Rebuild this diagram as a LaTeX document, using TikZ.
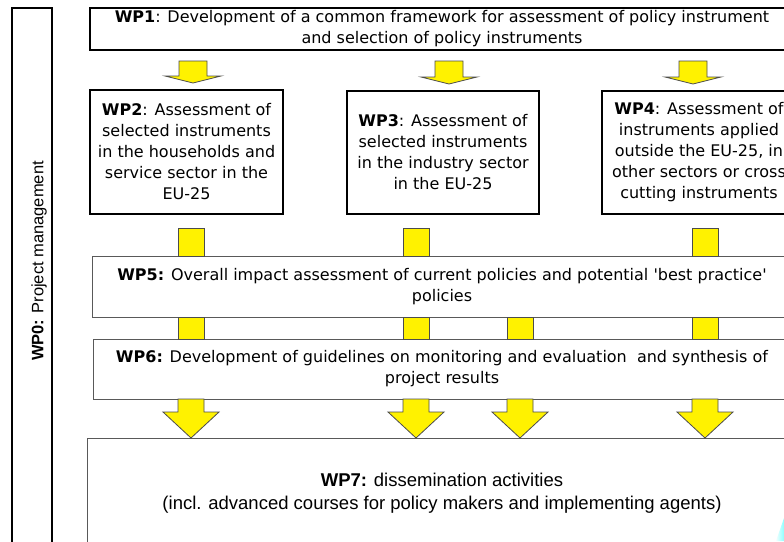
\documentclass[tikz,border=0pt]{standalone}
\usepackage{fontspec}
\setmainfont{DejaVu Sans}
\newfontfamily\arialfont{Liberation Sans}
\usetikzlibrary{calc}

% flat arrow under WP1: column, from node, to node
\newcommand{\flatarrow}[3]{%
  \draw[yarrow] ($(#1 |- #2.south)+(-14,11)$) -- ($(#1 |- #3.north)+(-14,-14)$)
    -- ($(#1 |- #3.north)+(-28,-14)$) -- ($(#1 |- #3.north)+(0,-7)$)
    -- ($(#1 |- #3.north)+(28,-14)$) -- ($(#1 |- #3.north)+(14,-14)$)
    -- ($(#1 |- #2.south)+(14,11)$) -- cycle;}
% big arrow into WP7
\newcommand{\bigarrow}[3]{%
  \draw[yarrow] ($(#1 |- #2.south)+(-13,0)$) -- ($(#1 |- #3.north)+(-13,-26)$)
    -- ($(#1 |- #3.north)+(-28,-26)$) -- (#1 |- #3.north)
    -- ($(#1 |- #3.north)+(28,-26)$) -- ($(#1 |- #3.north)+(13,-26)$)
    -- ($(#1 |- #2.south)+(13,0)$) -- cycle;}

\begin{document}
\begin{tikzpicture}[
        x=1pt, y=-1pt, % pixel coordinates, y downwards
        wpbox/.style={draw, line width=2pt, inner sep=0pt, outer sep=0pt, anchor=north west,
            align=center, font=\fontsize{16}{21}\selectfont},
        flatbox/.style={wpbox, draw=black!65, line width=1pt},
        yarrow/.style={fill=yellow, draw=black!70, line width=0.8pt, line join=miter},
    ]
    \useasboundingbox (0,0) rectangle (784,541);
    \fill[white] (0,0) rectangle (784,541);
    \clip (0,0) rectangle (784,541);

    % columns of the arrows
    \coordinate (a1) at (193,0);
    \coordinate (a2) at (449,0);
    \coordinate (a3) at (693,0);
    \coordinate (c1) at (191,0);
    \coordinate (c2) at (416,0);
    \coordinate (c3) at (520,0);
    \coordinate (c4) at (705,0);

    % work packages
    \node[wpbox, minimum width=40, minimum height=560] (wp0) at (12,8) {};
    \node[rotate=90, font=\arialfont\fontsize{16.5}{20}\selectfont] (wp0label) at (39,261)
        {\textbf{WP0:} Project management};
    \node[wpbox, minimum width=704, minimum height=42] (wp1) at (90,8)
        {\textbf{WP1}: Development of a common framework for assessment of policy instrument\\
         and selection of policy instruments};
    \node[wpbox, minimum width=193, minimum height=124] (wp2) at (90,90)
        {\textbf{WP2}: Assessment of\\ selected instruments\\ in the households and\\
         service sector in the\\ EU-25};
    \node[wpbox, minimum width=192, minimum height=123] (wp3) at (347,91)
        {\textbf{WP3}: Assessment of\\ selected instruments\\ in the industry sector\\ in the EU-25};
    \node[wpbox, minimum width=194, minimum height=123] (wp4) at (602,91)
        {\textbf{WP4}: Assessment of\\ instruments applied\\ outside the EU-25, in\\
         other sectors or cross\\ cutting instruments};
    \node[flatbox, minimum width=700, minimum height=61] (wp5) at (92,256)
        {\textbf{WP5:} Overall impact assessment of current policies and potential
         \textquotesingle best practice\textquotesingle\\ policies};
    \node[flatbox, minimum width=698, minimum height=60] (wp6) at (93,339)
        {\textbf{WP6:} Development of guidelines on monitoring and evaluation\ \ and synthesis of\\
         project results};
    \node[flatbox, minimum width=710, minimum height=140] (wp7) at (87,438) {};
    \node[font=\arialfont\fontsize{18.5}{23}\selectfont, align=center] (wp7label) at (442,493)
        {\textbf{WP7:} dissemination activities\\
         (incl. advanced courses for policy makers and implementing agents)};

    % arrows
    \flatarrow{a1}{wp1}{wp2}
    \flatarrow{a2}{wp1}{wp3}
    \flatarrow{a3}{wp1}{wp4}
    \foreach \c in {c1,c2,c4}
        \draw[yarrow] ($(\c |- wp5.north)+(-13,-28)$) rectangle ($(\c |- wp5.north)+(13,0)$);
    \foreach \c in {c1,c2,c3,c4}
        \draw[yarrow] ($(\c |- wp5.south)+(-13,0)$) rectangle ($(\c |- wp6.north)+(13,0)$);
    \foreach \c in {c1,c2,c3,c4} {\bigarrow{\c}{wp6}{wp7}}

    % corner of a logo
    \shade[left color=cyan!5, right color=cyan!45] (784,518) -- (784,541) -- (776,541) -- cycle;
\end{tikzpicture}
\end{document}
